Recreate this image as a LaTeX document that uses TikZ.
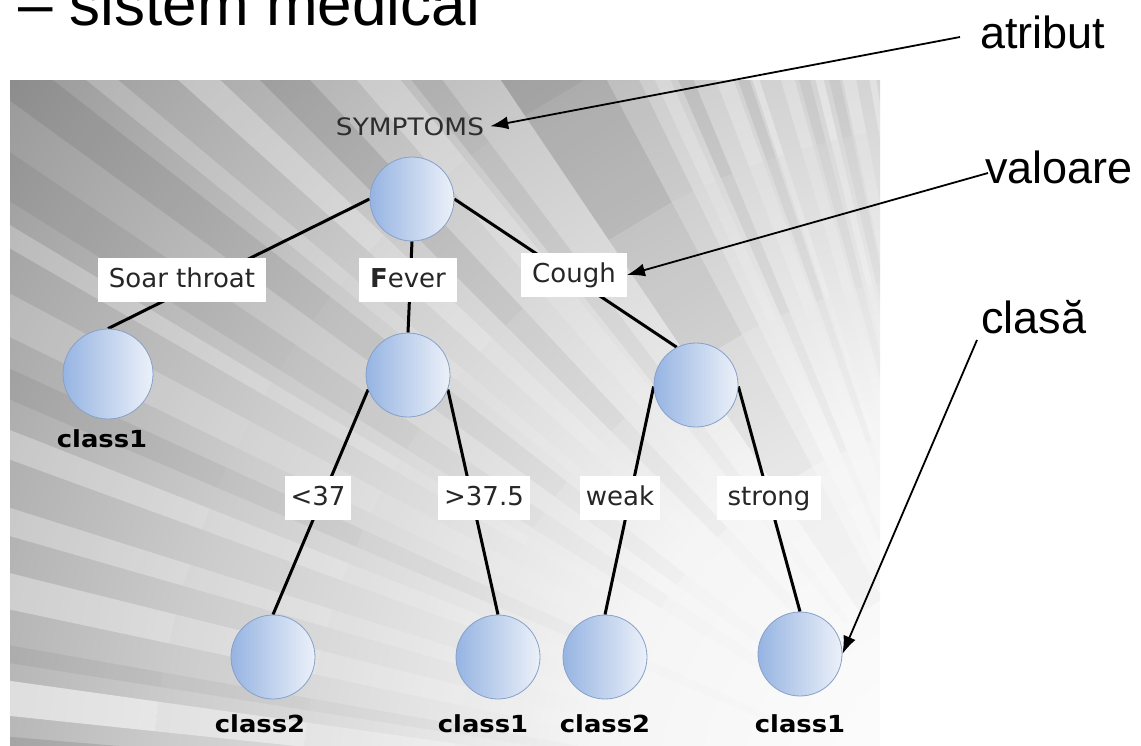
\documentclass[tikz,border=0pt]{standalone}
\usepackage{fontspec}
\setmainfont{Liberation Sans}
\newfontfamily\verd{DejaVu Sans}
\newfontfamily\verdwide[FakeStretch=1.1]{DejaVu Sans}
\usetikzlibrary{arrows.meta}

\pgfdeclarelayer{backdrop}
\pgfdeclarelayer{links}
\pgfsetlayers{backdrop,links,main}

\definecolor{ballL}{RGB}{150,180,226}
\definecolor{ballR}{RGB}{236,241,249}
\definecolor{ballEdge}{RGB}{135,160,200}
\definecolor{symtext}{RGB}{45,45,45}

% radial glow of the ray panel
\pgfdeclareradialshading{glow}{\pgfpoint{0bp}{0bp}}{%
  color(0bp)=(white); color(8bp)=(white!96!black); color(16bp)=(white!80!black);
  color(25bp)=(white!57!black); color(50bp)=(white!57!black)}

% one ray of the backdrop, fading in with the distance from the focus
\newcommand\sliver[4]{%
  \fill[#3, opacity=0.12*#4] (#1:250) -- (#1:400) -- (#2:400) -- (#2:250) -- cycle;
  \fill[#3, opacity=0.3*#4] (#1:400) -- (#1:550) -- (#2:550) -- (#2:400) -- cycle;
  \fill[#3, opacity=0.55*#4] (#1:550) -- (#1:700) -- (#2:700) -- (#2:550) -- cycle;
  \fill[#3, opacity=0.8*#4] (#1:700) -- (#1:850) -- (#2:850) -- (#2:700) -- cycle;
  \fill[#3, opacity=#4] (#1:850) -- (#1:2000) -- (#2:2000) -- (#2:850) -- cycle;}

\tikzset{
  ball/.style={circle, minimum size=84pt, inner sep=0pt, draw=ballEdge,
    line width=0.8pt, left color=ballL, right color=ballR},
  tag/.style={fill=white, font=\verd\fontsize{26}{30}\selectfont, text=black!85,
    text height=19pt, text depth=5pt, inner ysep=10pt, inner xsep=11pt},
  tagnarrow/.style={tag, inner xsep=6pt},
  cls/.style={font=\verdwide\bfseries\fontsize{23.5}{27}\selectfont, anchor=base,
    inner sep=0pt, text=black},
  link/.style={line width=3pt, black},
  note/.style={font=\fontsize{45}{50}\selectfont, anchor=base west, inner sep=0pt},
  pointer/.style={line width=1.8pt, -{Latex[length=18pt,width=13pt]}},
}

\begin{document}
\begin{tikzpicture}[x=1pt,y=-1pt]
\useasboundingbox (0,0) rectangle (1141,745);

\begin{pgfonlayer}{backdrop}
  \fill[white] (0,0) rectangle (1141,745);
  \begin{scope}
    \clip (10,80) rectangle (880,745);
    \shade[shading=glow] (1000,820) circle (1300);
    \begin{scope}[shift={(1000,820)}]
      \foreach \a/\b/\c/\o in {
        249/250.2/white/0.3, 251.5/252/white/0.4, 253.5/254.5/white/0.3,
        256/256.6/white/0.45, 258/259/white/0.35, 260/260.5/white/0.4,
        250.5/251.3/black/0.08, 254.8/255.6/black/0.06, 257/257.8/black/0.06,
        236/242/black/0.18, 242/244/black/0.08, 245/246/white/0.25,
        246.5/247.5/black/0.1,
        229/231/white/0.25, 231.5/233/black/0.08, 225/227/black/0.1,
        222/223.5/white/0.3, 219/220/white/0.2, 216/218/black/0.08,
        212/214/black/0.06, 210/211/white/0.25, 206/208/white/0.2,
        203/204.5/black/0.06, 200/201.5/white/0.3,
        196/197.5/white/0.3, 192/194/white/0.35, 189/190/black/0.05,
        186/188/white/0.55, 184/184.8/black/0.1}
        {\sliver{\a}{\b}{\c}{\o}}
    \end{scope}
  \end{scope}
\end{pgfonlayer}

% heading
\node[anchor=base west, inner sep=0pt, font=\fontsize{62}{70}\selectfont] (title)
  at (18,25) {– sistem medical};

% tree nodes
\node[ball] (root) at (412,199) {};
\node[ball, minimum size=90pt] (c1) at (108,374) {};
\node[ball] (fv) at (408,375) {};
\node[ball] (cg) at (696,385) {};
\node[ball] (d1) at (273,657) {};
\node[ball] (d2) at (498,657) {};
\node[ball] (d3) at (605,657) {};
\node[ball] (d4) at (800,654) {};

\node[font=\verdwide\fontsize{24}{28}\selectfont, text=symtext, anchor=base,
  inner sep=6pt] (sym) at (410,135) {SYMPTOMS};

% class labels
\node[cls] (lc1) at (102,447) {class1};
\node[cls] (ld1) at (260,732) {class2};
\node[cls] (ld2) at (483,732) {class1};
\node[cls] (ld3) at (605,732) {class2};
\node[cls] (ld4) at (800,732) {class1};

% branch values
\node[tag] (soar) at (182,280) {Soar throat};
\node[tag] (fever) at (408,280) {\textbf{F}ever};
\node[tag] (cough) at (574,275) {Cough};
\node[tagnarrow] (lt) at (318,498) {<37};
\node[tagnarrow] (gt) at (484,498) {>37.5};
\node[tagnarrow] (weak) at (620,498) {weak};
\node[tag] (strong) at (769,498) {strong};

% branches
\begin{pgfonlayer}{links}
  \draw[link] (root.west) -- (c1.north);
  \draw[link] (root.south) -- (fv.north);
  \draw[link] (root.east) -- (cg.117);
  \draw[link] (fv.200) -- (d1.north);
  \draw[link] (fv.-20) -- (d2.north);
  \draw[link] (cg.182) -- (d3.north);
  \draw[link] (cg.-2) -- (d4.north);
\end{pgfonlayer}

% side notes
\node[note] (atr) at (980,48) {atribut};
\node[note] (val) at (985,183) {valoare};
\node[note] (cla) at (981,333) {clasă};
\coordinate (atrS) at (960,37);
\coordinate (valS) at (988,173);
\coordinate (claS) at (977,340);
\draw[pointer] (atrS) -- (sym.east);
\draw[pointer] (valS) -- (cough.east);
\draw[pointer] (claS) -- (d4.east);
\end{tikzpicture}
\end{document}
